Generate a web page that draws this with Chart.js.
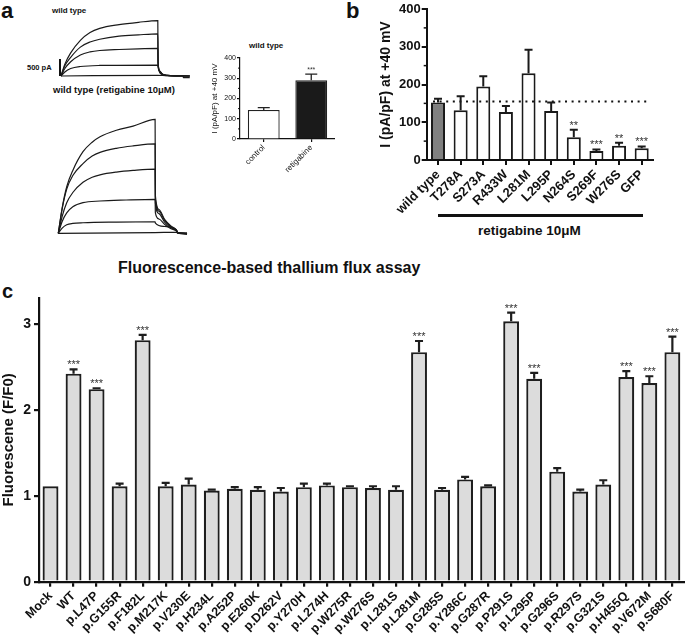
<!DOCTYPE html>
<html>
<head>
<meta charset="utf-8">
<script src="https://cdn.jsdelivr.net/npm/chart.js@4.4.1/dist/chart.umd.min.js"></script>
<style>
  body { margin: 0; background: #fff; font-family: "Liberation Sans", Arial, sans-serif; }
  #wrap { position: relative; width: 685px; height: 639px; overflow: hidden; background: #fff; }
  canvas { position: absolute; }
  .t { position: absolute; white-space: nowrap; font-weight: bold; color: #111; line-height: 1; }
  .ln { position: absolute; background: #111; }
</style>
</head>
<body>
<div id="wrap">
  <div class="t" style="left:1px;top:0px;font-size:22px;">a</div>
  <div class="t" style="left:346px;top:0px;font-size:22px;">b</div>
  <div class="t" style="left:2px;top:281px;font-size:20px;">c</div>

  <div class="t" style="left:52px;top:7px;font-size:8px;">wild type</div>
  <div class="t" style="left:27px;top:64px;font-size:7.5px;">500 pA</div>
  <div class="ln" style="left:59px;top:59px;width:1.5px;height:17px;"></div>
  <div class="t" style="left:53px;top:85px;font-size:9.5px;">wild type (retigabine 10μM)</div>
  <div class="t" style="left:249px;top:42px;font-size:8px;">wild type</div>

  <div class="ln" style="left:438px;top:214px;width:205px;height:2.5px;"></div>
  <div class="t" style="left:478px;top:224px;font-size:13.5px;">retigabine 10μM</div>

  <div class="t" style="left:118px;top:260px;font-size:16px;">Fluorescence-based thallium flux assay</div>

  <canvas id="wtTr" width="140" height="65" style="left:55px;top:15px;"></canvas>
  <canvas id="rtTr" width="140" height="145" style="left:55px;top:95px;"></canvas>
  <canvas id="inset" width="125" height="150" style="left:210px;top:40px;"></canvas>
  <canvas id="chartB" width="307" height="215" style="left:378px;top:0px;"></canvas>
  <canvas id="chartC" width="685" height="359" style="left:0px;top:280px;"></canvas>
</div>
<script>
Chart.defaults.font.family = '"Liberation Sans", Arial, sans-serif';
Chart.defaults.color = '#111';

// ---- panel a: current traces (time ms, current nA) ----
const wtTraces = [
  [[0,0],[40,0.35],[100,0.68],[200,1.05],[300,1.28],[400,1.40],[600,1.51],[800,1.58],[1000,1.63],[1003,0.4],[1020,0.15],[1050,0.05],[1100,0.02],[1330,0]],
  [[0,0],[40,0.30],[100,0.55],[200,0.85],[300,1.00],[400,1.08],[600,1.17],[800,1.21],[1000,1.24],[1003,0.38],[1020,0.14],[1050,0.05],[1100,0.02],[1330,0]],
  [[0,0],[40,0.22],[100,0.42],[200,0.62],[300,0.71],[400,0.75],[600,0.78],[800,0.80],[1000,0.81],[1003,0.34],[1020,0.13],[1050,0.04],[1100,0.02],[1330,0]],
  [[0,0],[40,0.12],[100,0.22],[200,0.28],[400,0.31],[1000,0.32],[1003,0.25],[1020,0.1],[1050,0.04],[1100,0.01],[1330,0]],
  [[0,0],[1000,0.02],[1100,0.01],[1260,0],[1265,-0.05],[1330,-0.05]]
];
const rtTraces = [
  [[0,0],[40,0.75],[87,1.37],[150,1.85],[255,2.40],[350,2.68],[431,2.84],[600,3.03],[772,3.15],[1000,3.35],[1003,1.10],[1040,0.70],[1100,0.40],[1160,0.22],[1220,0.10],[1235,0.02],[1330,0]],
  [[0,0],[40,0.72],[87,1.30],[150,1.70],[255,2.05],[350,2.27],[431,2.38],[600,2.50],[772,2.57],[1000,2.63],[1003,1.00],[1040,0.65],[1100,0.37],[1160,0.20],[1220,0.09],[1235,0.02],[1330,0]],
  [[0,0],[40,0.50],[87,0.90],[150,1.20],[255,1.50],[350,1.65],[431,1.72],[600,1.80],[772,1.85],[1000,1.89],[1003,0.90],[1040,0.58],[1100,0.32],[1160,0.17],[1220,0.08],[1235,0.02],[1330,0]],
  [[0,0],[40,0.35],[87,0.60],[150,0.78],[255,0.90],[431,0.95],[700,0.98],[1000,1.00],[1003,0.60],[1040,0.42],[1100,0.26],[1160,0.14],[1220,0.07],[1235,0.02],[1330,0]],
  [[0,0],[40,0.15],[87,0.25],[150,0.29],[255,0.31],[600,0.33],[1000,0.34],[1003,0.30],[1100,0.20],[1220,0.10],[1235,0],[1330,0]],
  [[0,0],[1000,0.02],[1220,0.03],[1235,0],[1330,-0.03]]
];

// ---- panel a inset ----
const insetLabels = ['control', 'retigabine'];
const insetValues = [143, 290];
const insetErrors = [12, 30];
const insetStars = ['', '***'];

// ---- panel b ----
const bLabels = ['wild type','T278A','S273A','R433W','L281M','L295P','N264S','S269F','W276S','GFP'];
const bValues = [152, 132, 195, 127, 230, 130, 60, 24, 38, 31];
const bErrors = [10, 37, 27, 16, 62, 22, 20, 4, 8, 5];
const bStars = ['','','','','','','**','***','**','***'];
const bRefLine = 155;
const bTicks = [0, 100, 200, 300, 400];

// ---- panel c ----
const cLabels = ['Mock','WT','p.L47P','p.G155R','p.F182L','p.M217K','p.V230E','p.H234L','p.A252P','p.E260K',
  'p.D262V','p.Y270H','p.L274H','p.W275R','p.W276S','p.L281S','p.L281M','p.G285S','p.Y286C','p.G287R',
  'p.P291S','p.L295P','p.G296S','p.R297S','p.G321S','p.H455Q','p.V672M','p.S680F'];
const cValues = [1.11, 2.42, 2.24, 1.11, 2.81, 1.11, 1.13, 1.06, 1.08, 1.07,
  1.05, 1.10, 1.12, 1.10, 1.09, 1.07, 2.67, 1.07, 1.19, 1.11,
  3.03, 2.36, 1.28, 1.05, 1.13, 2.38, 2.31, 2.67];
const cErrors = [0, 0.05, 0.01, 0.03, 0.06, 0.04, 0.07, 0.01, 0.02, 0.03,
  0.04, 0.04, 0.02, 0.01, 0.02, 0.04, 0.13, 0.02, 0.03, 0.01,
  0.10, 0.07, 0.04, 0.02, 0.05, 0.07, 0.08, 0.18];
const cStars = ['','***','***','','***','','','','','','','','','','','','***','','','',
  '***','***','','','','***','***','***'];

// pixel anchors -> axis range
function axisRange(originPx, sizePx, pxPerUnit, inverted) {
  if (inverted) return { min: -(sizePx - originPx) / pxPerUnit, max: originPx / pxPerUnit };
  return { min: -originPx / pxPerUnit, max: (sizePx - originPx) / pxPerUnit };
}

function traceChart(id, traces, x0, base, w, h) {
  const xr = axisRange(x0, w, 0.0968, false);
  const yr = axisRange(base, h, 34, true);
  new Chart(document.getElementById(id), {
    type: 'scatter',
    data: {
      datasets: traces.map(tr => ({
        data: tr, showLine: true, pointRadius: 0, borderColor: '#1a1a1a',
        borderWidth: 1.2, cubicInterpolationMode: 'monotone'
      }))
    },
    options: {
      responsive: false, animation: false,
      layout: { padding: 0 },
      plugins: { legend: { display: false }, tooltip: { enabled: false } },
      scales: {
        x: { type: 'linear', display: false, min: xr.min, max: xr.max },
        y: { type: 'linear', display: false, min: yr.min, max: yr.max }
      }
    }
  });
}
traceChart('wtTr', wtTraces, 6, 61, 140, 65);
traceChart('rtTr', rtTraces, 3.3, 138.3, 140, 145);

const errPlugin = {
  id: 'errBars',
  afterDatasetsDraw(chart, args, o) {
    const ctx = chart.ctx, y = chart.scales.y, x = chart.scales.x;
    const vals = chart.data.datasets[0].data;
    const meta = chart.getDatasetMeta(0);
    ctx.save();
    if (o.refLine != null) {
      ctx.strokeStyle = '#111'; ctx.lineWidth = 2.2; ctx.setLineDash([2, 4.6]);
      const yy = y.getPixelForValue(o.refLine);
      ctx.beginPath();
      ctx.moveTo(x.getPixelForValue(0) - 5, yy);
      ctx.lineTo(x.getPixelForValue(vals.length - 1) + 7, yy);
      ctx.stroke();
      ctx.setLineDash([]);
    }
    ctx.strokeStyle = o.color; ctx.lineWidth = o.width;
    meta.data.forEach((bar, i) => {
      const e = o.errors[i];
      const yTop = y.getPixelForValue(vals[i] + e);
      const yBar = y.getPixelForValue(vals[i]);
      if (e > 0) {
        ctx.beginPath();
        ctx.moveTo(bar.x, yBar); ctx.lineTo(bar.x, yTop);
        ctx.moveTo(bar.x - o.cap / 2, yTop); ctx.lineTo(bar.x + o.cap / 2, yTop);
        ctx.stroke();
      }
      if (o.stars[i]) {
        ctx.fillStyle = '#333'; ctx.font = o.starFont;
        ctx.textAlign = 'center'; ctx.textBaseline = 'alphabetic';
        ctx.fillText(o.stars[i], bar.x, yTop - o.starGap);
      }
    });
    if (o.minor) {
      ctx.strokeStyle = '#111'; ctx.lineWidth = o.minorWidth;
      o.minor.forEach(v => {
        const yy = y.getPixelForValue(v);
        ctx.beginPath(); ctx.moveTo(y.right - o.minorLen, yy); ctx.lineTo(y.right, yy); ctx.stroke();
      });
    }
    ctx.restore();
  }
};

function barChart(id, cfg) {
  new Chart(document.getElementById(id), {
    type: 'bar',
    data: {
      labels: cfg.labels,
      datasets: [{
        data: cfg.values,
        backgroundColor: cfg.fill,
        borderColor: cfg.edge,
        borderWidth: cfg.edgeWidth,
        barPercentage: cfg.barPct,
        categoryPercentage: 1
      }]
    },
    options: {
      responsive: false, animation: false,
      layout: { padding: cfg.padding },
      plugins: { legend: { display: false }, tooltip: { enabled: false }, errBars: cfg.err },
      scales: {
        x: {
          afterFit: s => { s.height = cfg.xH; },
          grid: { display: true, drawOnChartArea: false, offset: false, color: '#111', lineWidth: cfg.axisW, tickLength: cfg.tickLen },
          border: { color: '#111', width: cfg.axisW },
          ticks: { autoSkip: false, minRotation: 45, maxRotation: 45, padding: cfg.xPad,
                   font: cfg.xFont, color: '#111' }
        },
        y: {
          min: 0, max: cfg.yMax,
          afterFit: s => { s.width = cfg.yW; },
          afterBuildTicks: s => { s.ticks = cfg.yTicks.map(v => ({ value: v })); },
          grid: { display: true, drawOnChartArea: false, color: '#111', lineWidth: cfg.axisW, tickLength: cfg.tickLen },
          border: { color: '#111', width: cfg.axisW },
          ticks: { padding: cfg.yPad, font: cfg.yFont, color: '#111' },
          title: { display: true, text: cfg.yTitle, font: cfg.titleFont, color: '#111', padding: { top: 0, bottom: 0 } }
        }
      }
    },
    plugins: [errPlugin]
  });
}

barChart('inset', {
  labels: insetLabels, values: insetValues,
  fill: ['#ffffff', '#1a1a1a'], edge: '#222', edgeWidth: 1.3, barPct: 0.67,
  padding: { top: 18, right: 0, left: 0, bottom: 0 },
  xH: 51, yW: 30, yMax: 400, yTicks: [0, 100, 200, 300, 400],
  axisW: 1.2, tickLen: 3, xPad: 1, yPad: 1,
  xFont: { size: 8 }, yFont: { size: 7 },
  yTitle: 'I (pA/pF) at +40 mV', titleFont: { size: 8 },
  err: { errors: insetErrors, stars: insetStars, color: '#222', width: 1.3, cap: 12,
         starFont: '7px "Liberation Sans", Arial', starGap: 2,
         minor: [50, 150, 250, 350], minorLen: 2, minorWidth: 1 }
});

barChart('chartB', {
  labels: bLabels, values: bValues,
  fill: bLabels.map((l, i) => i === 0 ? '#808080' : '#ffffff'), edge: '#1a1a1a', edgeWidth: 2, barPct: 0.62,
  padding: { top: 9, right: 32, left: 0, bottom: 0 },
  xH: 55, yW: 48.7, yMax: 400, yTicks: bTicks,
  axisW: 2, tickLen: 5, xPad: 2, yPad: 1,
  xFont: { size: 13, weight: 'bold' }, yFont: { size: 13, weight: 'bold' },
  yTitle: 'I (pA/pF) at +40 mV', titleFont: { size: 14, weight: 'bold' },
  err: { errors: bErrors, stars: bStars, color: '#1a1a1a', width: 2, cap: 8,
         starFont: '11px "Liberation Sans", Arial', starGap: 1, refLine: bRefLine,
         minor: [50, 150, 250, 350], minorLen: 3, minorWidth: 1.5 }
});

barChart('chartC', {
  labels: cLabels, values: cValues,
  fill: '#dcdcdc', edge: '#1e1e1e', edgeWidth: 2.2, barPct: 0.69,
  padding: { top: 18, right: 1, left: 0, bottom: 0 },
  xH: 57.3, yW: 39, yMax: 3.3, yTicks: [0, 1, 2, 3],
  axisW: 2.2, tickLen: 5, xPad: 2, yPad: 3,
  xFont: { size: 12.5, weight: 'bold' }, yFont: { size: 14, weight: 'bold' },
  yTitle: 'Fluorescene (F/F0)', titleFont: { size: 15, weight: 'bold' },
  err: { errors: cErrors, stars: cStars, color: '#1e1e1e', width: 2.2, cap: 8,
         starFont: '11px "Liberation Sans", Arial', starGap: 1 }
});
</script>
</body>
</html>
